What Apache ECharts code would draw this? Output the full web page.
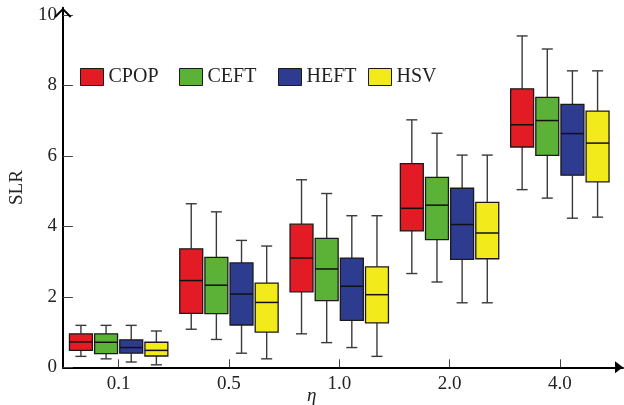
<!DOCTYPE html>
<html>
<head>
<meta charset="utf-8">
<script src="https://cdn.jsdelivr.net/npm/echarts@6/dist/echarts.min.js"></script>
<style>
  html, body { margin: 0; padding: 0; background: #fff; }
  #chart { width: 624px; height: 405px; }
</style>
</head>
<body>
<div id="chart"></div>
<script>
const categories = ['0.1', '0.5', '1.0', '2.0', '4.0'];
const seriesNames = ['CPOP', 'CEFT', 'HEFT', 'HSV'];
const yTicks = [0, 2, 4, 6, 8, 10];

// one row per eta value: [min, Q1, median, Q3, max]
const cpop = [
    [0.31, 0.48, 0.72, 0.95, 1.19],
    [1.08, 1.53, 2.46, 3.36, 4.64],
    [0.95, 2.14, 3.10, 4.06, 5.32],
    [2.66, 3.87, 4.51, 5.78, 7.02],
    [5.04, 6.25, 6.88, 7.90, 9.40]
];
const ceft = [
    [0.24, 0.39, 0.71, 0.95, 1.19],
    [0.79, 1.52, 2.33, 3.12, 4.41],
    [0.70, 1.89, 2.79, 3.66, 4.93],
    [2.42, 3.62, 4.60, 5.39, 6.64],
    [4.80, 6.01, 7.00, 7.66, 9.03]
];
const heft = [
    [0.15, 0.40, 0.56, 0.78, 1.19],
    [0.40, 1.20, 2.08, 2.96, 3.60],
    [0.56, 1.33, 2.30, 3.10, 4.30],
    [1.83, 3.06, 4.05, 5.08, 6.02],
    [4.23, 5.45, 6.63, 7.46, 8.41]
];
const hsv = [
    [0.07, 0.32, 0.48, 0.71, 1.03],
    [0.24, 1.00, 1.84, 2.39, 3.44],
    [0.31, 1.26, 2.06, 2.85, 4.30],
    [1.83, 3.08, 3.81, 4.68, 6.02],
    [4.26, 5.26, 6.36, 7.27, 8.41]
];

const seriesValues = [cpop, ceft, heft, hsv];
const colors = ['#E31B25', '#5BB236', '#2E3C8F', '#F2EA1B'];
const legendLeft = [80, 179, 278, 368];
const font = "'Liberation Serif', serif";

function renderBox(params, api) {
    const i = api.value(0);
    const band = api.size([1, 0])[0];
    const cx = api.coord([i, 0])[0] + (params.seriesIndex - 1.5) * band * 0.228;
    const half = band * 0.104;
    const cap = band * 0.05;
    const [yMin, yQ1, yMed, yQ3, yMax] = [1, 2, 3, 4, 5].map(d => api.coord([i, api.value(d)])[1]);
    const whisker = {stroke: '#3a3a3a', lineWidth: 1.4};
    return {
        type: 'group',
        children: [
            {type: 'line', shape: {x1: cx, y1: yMax, x2: cx, y2: yQ3}, style: whisker},
            {type: 'line', shape: {x1: cx, y1: yQ1, x2: cx, y2: yMin}, style: whisker},
            {type: 'line', shape: {x1: cx - cap, y1: yMax, x2: cx + cap, y2: yMax}, style: whisker},
            {type: 'line', shape: {x1: cx - cap, y1: yMin, x2: cx + cap, y2: yMin}, style: whisker},
            {type: 'rect', shape: {x: cx - half, y: yQ3, width: half * 2, height: yQ1 - yQ3},
                style: {fill: api.visual('color'), stroke: '#1a1a1a', lineWidth: 1.3}},
            {type: 'line', shape: {x1: cx - half, y1: yMed, x2: cx + half, y2: yMed},
                style: {stroke: '#111', lineWidth: 1.5}}
        ]
    };
}

const chart = echarts.init(document.getElementById('chart'));
chart.setOption({
    animation: false,
    title: {
        text: 'η', left: 307, top: 386, padding: 0,
        textStyle: {fontFamily: font, fontStyle: 'italic', fontWeight: 'normal', fontSize: 19, color: '#222'}
    },
    legend: seriesNames.map((name, k) => ({
        data: [name], left: legendLeft[k], top: 67, padding: 0,
        itemWidth: 23, itemHeight: 17, icon: 'rect',
        itemStyle: {borderColor: '#1a1a1a', borderWidth: 1},
        textStyle: {fontFamily: font, fontSize: 20, color: '#222'}
    })),
    grid: [
        {left: 58, right: 1, top: 7.75, bottom: 37.7},
        {left: 63.5, right: 9, top: 7.75, bottom: 37.7}
    ],
    xAxis: [{
        gridIndex: 0, type: 'value', min: 0, max: 1,
        axisLine: {lineStyle: {color: '#000', width: 2},
            symbol: ['none', 'path://M0,8L6,0L12,8Z'], symbolSize: [12, 8], symbolOffset: [0, -4]},
        axisTick: {show: false}, axisLabel: {show: false}, splitLine: {show: false}
    }, {
        gridIndex: 1, type: 'category', data: categories,
        axisLine: {show: false},
        axisTick: {show: true, inside: true, alignWithLabel: true, length: 8, lineStyle: {color: '#444'}},
        axisLabel: {margin: 7, fontFamily: font, fontSize: 19, color: '#222'},
        splitLine: {show: false}
    }],
    yAxis: [{
        gridIndex: 0, type: 'value', min: 0, max: 10.2,
        name: 'SLR', nameLocation: 'middle', nameGap: 30,
        nameTextStyle: {fontFamily: font, fontSize: 19, color: '#222'},
        axisLine: {show: true, lineStyle: {color: '#000', width: 2},
            symbol: ['none', 'path://M0,8.6L8.5,0L17,8.6L15.6,10L8.5,2.8L1.4,10Z'],
            symbolSize: [17, 10], symbolOffset: [0, -5]},
        axisTick: {show: true, inside: true, length: 10, customValues: yTicks, lineStyle: {color: '#444'}},
        axisLabel: {customValues: yTicks, margin: 6, fontFamily: font, fontSize: 19, color: '#222'},
        splitLine: {show: false}
    }, {
        gridIndex: 1, type: 'value', min: 0, max: 10.2, show: false
    }],
    series: seriesNames.map((name, k) => ({
        name: name,
        type: 'custom',
        xAxisIndex: 1,
        yAxisIndex: 1,
        itemStyle: {color: colors[k]},
        renderItem: renderBox,
        encode: {x: 0, y: [1, 2, 3, 4, 5]},
        data: seriesValues[k].map((row, i) => [i].concat(row))
    }))
});
</script>
</body>
</html>
